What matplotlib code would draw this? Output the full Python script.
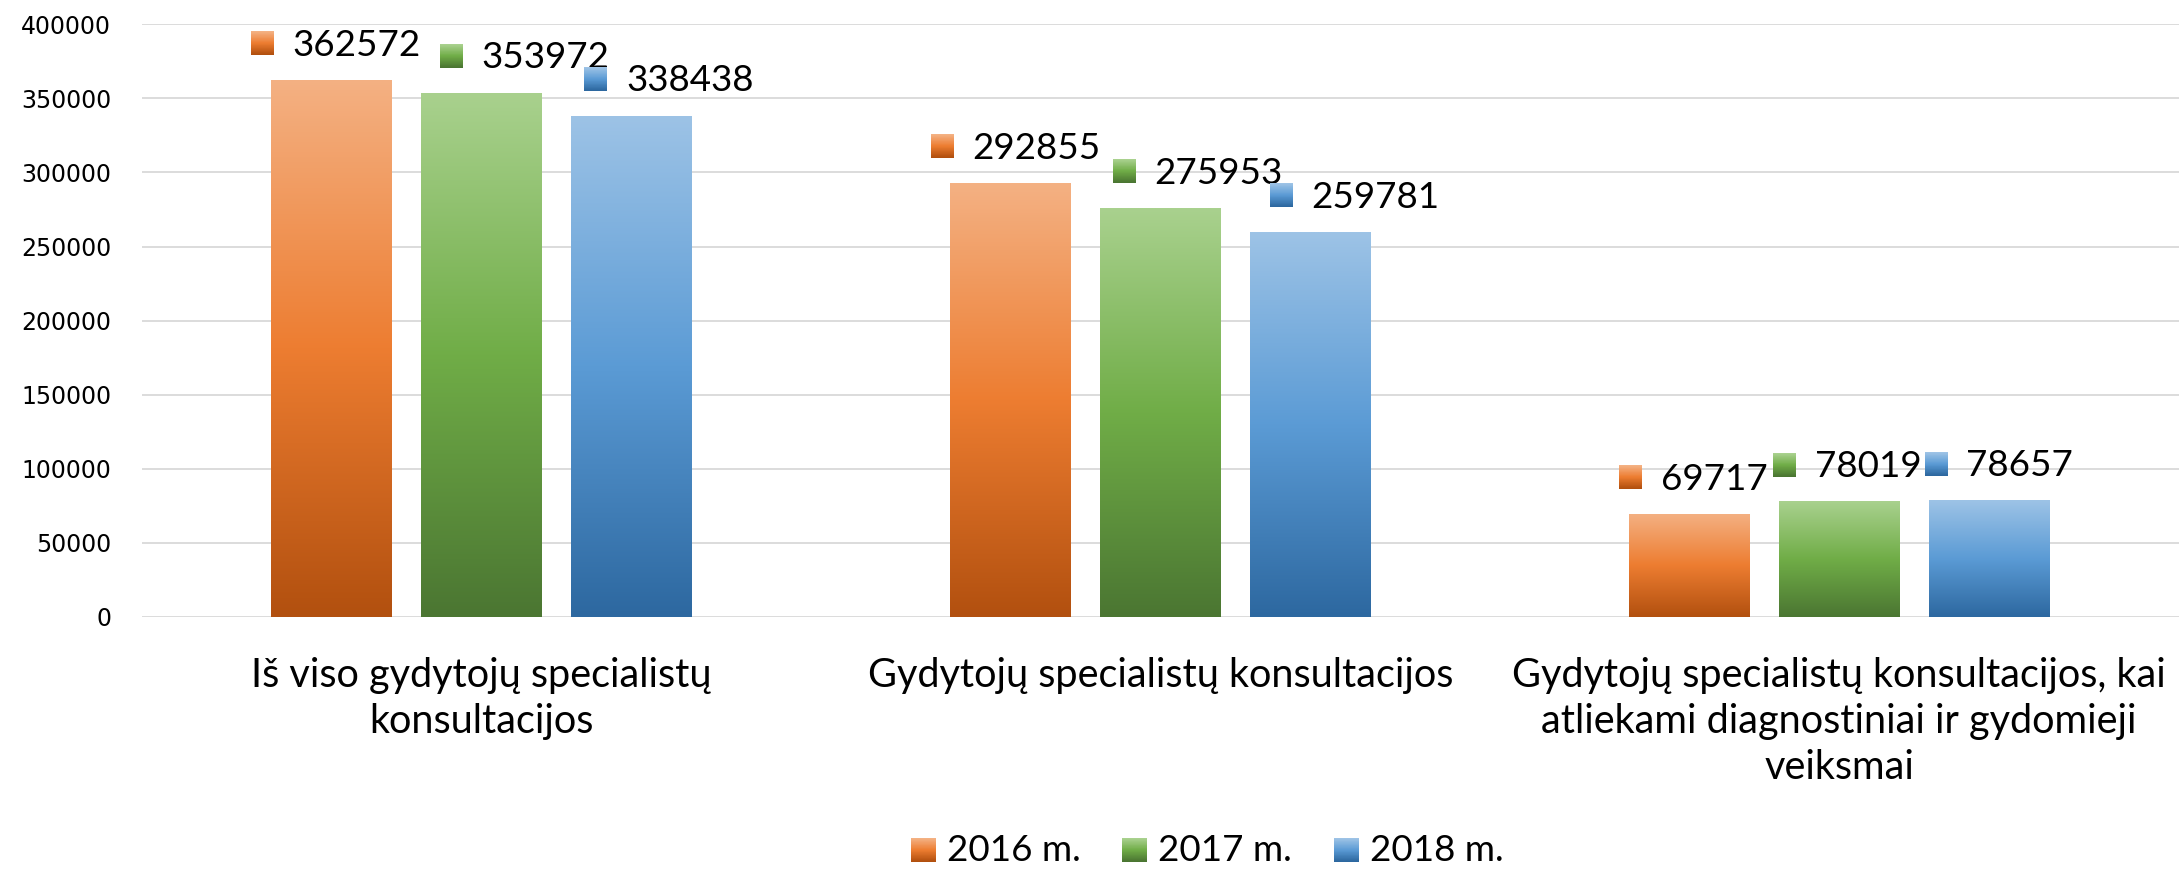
import matplotlib
matplotlib.use('Agg')
import matplotlib.pyplot as plt
import numpy as np
import matplotlib.colors as colors
from matplotlib.offsetbox import (OffsetImage, TextArea, HPacker, VPacker, DrawingArea,
                                  AnnotationBbox, AnchoredOffsetbox)

# chart data
categories = ['Iš viso gydytojų specialistų\nkonsultacijos',
              'Gydytojų specialistų konsultacijos',
              'Gydytojų specialistų konsultacijos, kai\natliekami diagnostiniai ir gydomieji\nveiksmai']
years = ['2016 m.', '2017 m.', '2018 m.']
v2016 = [362572, 292855, 69717]
v2017 = [353972, 275953, 78019]
v2018 = [338438, 259781, 78657]
yticks = [0, 50000, 100000, 150000, 200000, 250000, 300000, 350000, 400000]

# light top -> base -> dark bottom, like the office gradient fill
grad_colors = [
    ['#F4B183', '#ED7D31', '#B2500F'],
    ['#A9D18E', '#70AD47', '#4B7632'],
    ['#9DC3E6', '#5B9BD5', '#2D68A0'],
]
cmaps = [colors.LinearSegmentedColormap.from_list('g%d' % i, c) for i, c in enumerate(grad_colors)]

# horizontal nudges (points) of the data labels, per series / category, so they don't collide
label_dx = [[3, 4, 3], [31, 27, 6], [27, 32, 7]]

label_font = 'Lato'


def key_image(cmap, w=16, h=17, lift=3):
    g = np.linspace(0, 1, h)
    rgb = cmap(g)[:, :3]
    arr = np.repeat(rgb[:, None, :], w, axis=1)
    # small empty box below the key lifts it a bit against the digits
    return VPacker(children=[OffsetImage(arr, zoom=1.0), DrawingArea(1, lift)], align='center', pad=0, sep=0)


def key_box(cmap, text, fs, sep=14, w=16, h=17, lift=3):
    txt = TextArea(text, textprops=dict(fontsize=fs, family=label_font, color='black'))
    return HPacker(children=[key_image(cmap, w, h, lift), txt], align='center', pad=0, sep=sep)


fig = plt.figure(figsize=(21.83, 8.69), dpi=100)
ax = fig.add_axes([0.065, 0.29, 0.933, 0.682])

series = [v2016, v2017, v2018]
x = np.arange(len(categories))
width = 0.178
step = 0.221

for s, vals in enumerate(series):
    pos = x + (s - 1) * step
    bars = ax.bar(pos, vals, width, facecolor='none', edgecolor='none', zorder=2)
    grad = np.linspace(0, 1, 256).reshape(-1, 1)
    for i, (b, v) in enumerate(zip(bars, vals)):
        x0 = b.get_x()
        im = ax.imshow(grad, cmap=cmaps[s], extent=[x0, x0 + b.get_width(), 0, v],
                       origin='upper', aspect='auto', zorder=2, interpolation='bilinear')
        im.set_clip_path(b)
        ab = AnnotationBbox(key_box(cmaps[s], str(v), 26.5), (b.get_x() + b.get_width() / 2, v),
                            xybox=(label_dx[s][i], 13), xycoords='data', boxcoords='offset points',
                            box_alignment=(0.5, 0), frameon=False, pad=0)
        ax.add_artist(ab)

ax.set_xlim(-0.5, 2.5)
ax.set_ylim(0, 400000)
ax.set_yticks(yticks)
ax.set_yticklabels([str(t) for t in yticks], fontsize=17, family='DejaVu Sans')
ax.set_xticks(x)
ax.set_xticklabels(categories, fontsize=28.5, family=label_font, linespacing=1.3)
ax.tick_params(axis='both', length=0)
ax.tick_params(axis='y', pad=22)
ax.tick_params(axis='x', pad=29)
ax.set_axisbelow(True)
ax.grid(axis='y', color='#D9D9D9', linewidth=1.3)
for sp in ax.spines.values():
    sp.set_visible(False)

# legend with gradient keys
items = [key_box(cmaps[i], years[i], 26.5, sep=8, w=18, h=17, lift=1) for i in range(3)]
leg = HPacker(children=items, align='center', pad=0, sep=30)
anchored = AnchoredOffsetbox(loc='center', child=leg, pad=0, frameon=False,
                             bbox_to_anchor=(0.553, 0.021), bbox_transform=fig.transFigure)
fig.add_artist(anchored)

fig.savefig('out.png', dpi=100)
